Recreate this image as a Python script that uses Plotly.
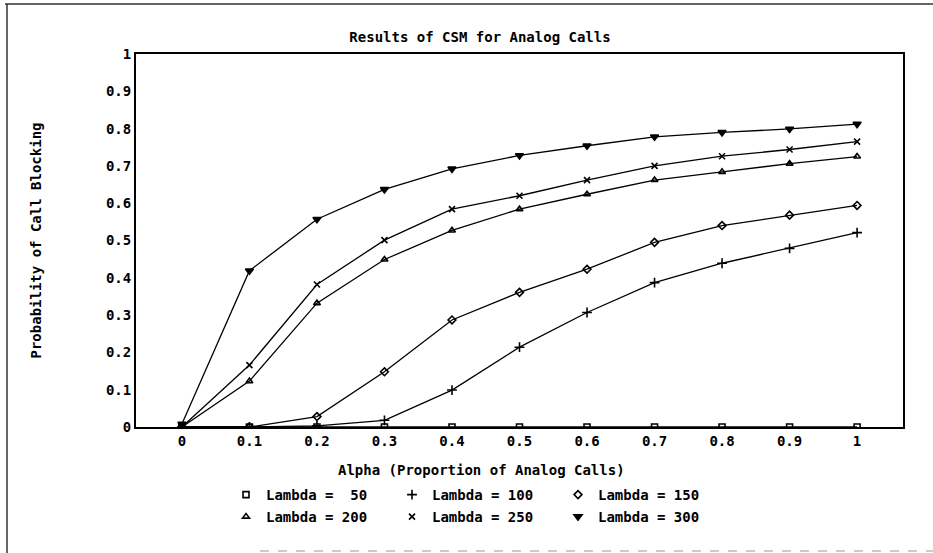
import plotly.graph_objects as go

alpha = [0, 0.1, 0.2, 0.3, 0.4, 0.5, 0.6, 0.7, 0.8, 0.9, 1.0]
lam_50 = [0, 0, 0, 0, 0, 0, 0, 0, 0, 0, 0]
lam_100 = [0, 0, 0.003, 0.018, 0.099, 0.214, 0.307, 0.387, 0.439, 0.479, 0.521]
lam_150 = [0, 0, 0.028, 0.148, 0.287, 0.361, 0.423, 0.495, 0.540, 0.568, 0.594]
lam_200 = [0, 0.123, 0.332, 0.449, 0.527, 0.584, 0.624, 0.662, 0.684, 0.706, 0.725]
lam_250 = [0, 0.166, 0.382, 0.501, 0.584, 0.620, 0.662, 0.700, 0.726, 0.744, 0.765]
lam_300 = [0.008, 0.419, 0.557, 0.637, 0.692, 0.728, 0.754, 0.778, 0.790, 0.799, 0.812]

series_names = ["Lambda =  50", "Lambda = 100", "Lambda = 150",
                "Lambda = 200", "Lambda = 250", "Lambda = 300"]
series_values = [lam_50, lam_100, lam_150, lam_200, lam_250, lam_300]
symbols = ["square-open", "cross-thin-open", "diamond-open",
           "triangle-up-open", "x-thin-open", "triangle-down"]
marker_sizes = [6, 7, 6, 6, 6, 7]
legend_ids = ["legend", "legend", "legend", "legend2", "legend2", "legend2"]

x_ticks = [0, 0.1, 0.2, 0.3, 0.4, 0.5, 0.6, 0.7, 0.8, 0.9, 1]
x_tick_text = ["0", "0.1", "0.2", "0.3", "0.4", "0.5", "0.6", "0.7", "0.8", "0.9", "1"]
y_ticks = [0, 0.1, 0.2, 0.3, 0.4, 0.5, 0.6, 0.7, 0.8, 0.9, 1]
y_tick_text = ["0", "0.1", "0.2", "0.3", "0.4", "0.5", "0.6", "0.7", "0.8", "0.9", "1"]

FONT = "DejaVu Sans Mono"
FS = 14

fig = go.Figure()
for name, vals in zip(series_names, series_values):
    fig.add_trace(go.Scatter(
        x=alpha, y=vals, mode="lines", showlegend=False,
        line=dict(color="black", width=1.3), hoverinfo="skip"))
for name, vals, sym, ms, lg in zip(series_names, series_values, symbols, marker_sizes, legend_ids):
    fig.add_trace(go.Scatter(
        x=alpha, y=vals, mode="markers", name=name, legend=lg,
        marker=dict(symbol=sym, size=ms, color="black",
                    line=dict(color="black", width=1.6))))

axis_common = dict(showgrid=False, zeroline=False, showline=True, mirror=True,
                   linecolor="black", linewidth=2, ticks="",
                   tickfont=dict(family=FONT, size=FS, color="black", weight="bold"))

fig.update_layout(
    width=933, height=553,
    margin=dict(l=136, r=30, t=54, b=126),
    paper_bgcolor="white", plot_bgcolor="white",
    font=dict(family=FONT, size=FS, color="black", weight="bold"),
    title=dict(text="Results of CSM for Analog Calls", x=480 / 933, xref="container",
               xanchor="center", y=1 - 37 / 553, yref="container", yanchor="middle",
               font=dict(family=FONT, size=FS, color="black", weight="bold")),
    xaxis=dict(range=[-0.068, 1.068], tickvals=x_ticks, ticktext=x_tick_text, **axis_common),
    yaxis=dict(range=[0, 1], tickvals=y_ticks, ticktext=y_tick_text,
               title=dict(text="Probability of Call Blocking", standoff=61,
                          font=dict(family=FONT, size=FS, color="black", weight="bold")),
               **axis_common),
    legend=dict(orientation="h", xref="container", yref="container",
                x=226 / 933, xanchor="left", y=1 - 495 / 553, yanchor="middle",
                entrywidth=121, entrywidthmode="pixels", bgcolor="rgba(0,0,0,0)",
                font=dict(family=FONT, size=FS, color="black", weight="bold")),
    legend2=dict(orientation="h", xref="container", yref="container",
                 x=226 / 933, xanchor="left", y=1 - 517 / 553, yanchor="middle",
                 entrywidth=121, entrywidthmode="pixels", bgcolor="rgba(0,0,0,0)",
                 font=dict(family=FONT, size=FS, color="black", weight="bold")),
    annotations=[dict(text="Alpha (Proportion of Analog Calls)", xref="paper", yref="paper",
                      x=(481 - 136) / 767, y=-(470 - 427) / 373, xanchor="center",
                      yanchor="middle", showarrow=False,
                      font=dict(family=FONT, size=FS, color="black", weight="bold"))],
    shapes=[
        dict(type="line", xref="paper", yref="paper", x0=(5 - 136) / 767, x1=(933 - 136) / 767,
             y0=(427 - 4) / 373, y1=(427 - 4) / 373, line=dict(color="#333", width=1.5)),
        dict(type="line", xref="paper", yref="paper", x0=(7 - 136) / 767, x1=(7 - 136) / 767,
             y0=(427 - 4) / 373, y1=(427 - 553) / 373, line=dict(color="#333", width=1.5)),
        dict(type="line", xref="paper", yref="paper", x0=(260 - 136) / 767, x1=(933 - 136) / 767,
             y0=(427 - 551) / 373, y1=(427 - 551) / 373,
             line=dict(color="#bbb", width=1.5, dash="dash")),
    ],
)

fig.write_html("out.html")
